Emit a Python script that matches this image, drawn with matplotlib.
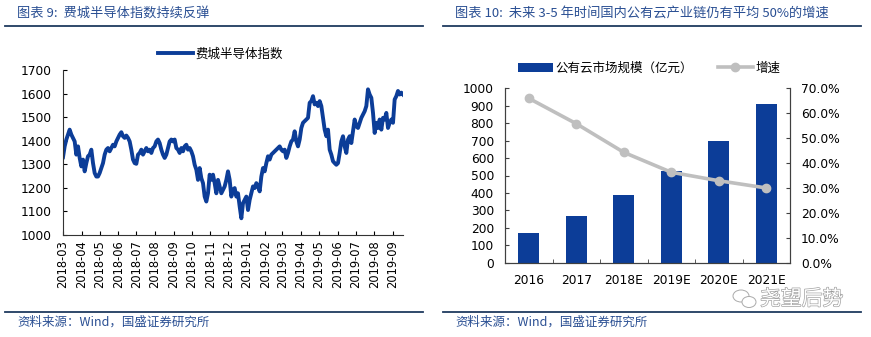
import matplotlib
matplotlib.use("Agg")
import matplotlib.pyplot as plt
import matplotlib.dates as mdates
from matplotlib.lines import Line2D
from matplotlib.patches import Ellipse
from matplotlib import patheffects
from matplotlib.ticker import MultipleLocator, FuncFormatter
import pandas as pd

plt.rcParams['font.family'] = ['DejaVu Sans', 'Noto Sans CJK SC']

# 费城半导体指数 (2018-03 ~ 2019-09)
sox_start = '2018-03-01'
sox_end = '2019-09-18'
sox_index = [1330, 1376, 1405, 1426, 1447, 1426, 1412, 1397, 1341, 1376, 1327, 1291,
             1320, 1270, 1305, 1334, 1341, 1362, 1305, 1263, 1248, 1248, 1263, 1284,
             1305, 1341, 1362, 1369, 1355, 1369, 1383, 1376, 1397, 1412, 1426, 1436,
             1419, 1412, 1422, 1412, 1397, 1362, 1320, 1305, 1302, 1341, 1348, 1362,
             1341, 1355, 1369, 1355, 1362, 1348, 1369, 1376, 1397, 1405, 1390, 1362,
             1341, 1327, 1341, 1369, 1397, 1405, 1397, 1405, 1369, 1362, 1348, 1369,
             1355, 1376, 1383, 1362, 1369, 1355, 1334, 1298, 1277, 1234, 1284, 1241,
             1220, 1163, 1142, 1177, 1256, 1234, 1256, 1220, 1177, 1234, 1206, 1177,
             1192, 1206, 1234, 1270, 1234, 1163, 1192, 1199, 1163, 1177, 1121, 1071,
             1135, 1149, 1163, 1106, 1149, 1177, 1206, 1199, 1220, 1206, 1185, 1248,
             1284, 1270, 1305, 1334, 1320, 1341, 1348, 1355, 1362, 1369, 1376, 1362,
             1355, 1362, 1327, 1348, 1376, 1397, 1405, 1440, 1397, 1376, 1405, 1454,
             1476, 1483, 1490, 1497, 1561, 1568, 1589, 1554, 1561, 1547, 1568, 1547,
             1497, 1447, 1419, 1447, 1362, 1341, 1313, 1305, 1298, 1305, 1348, 1397,
             1419, 1376, 1348, 1405, 1419, 1390, 1440, 1490, 1461, 1454, 1476, 1497,
             1511, 1525, 1547, 1618, 1596, 1582, 1518, 1433, 1476, 1454, 1490, 1447,
             1497, 1490, 1518, 1454, 1476, 1490, 1476, 1575, 1589, 1611, 1596, 1604,
             1596]

# 公有云市场规模 与 增速
years = ['2016', '2017', '2018E', '2019E', '2020E', '2021E']
cloud_size = [172, 270, 390, 528, 700, 910]
cloud_growth = [0.66, 0.558, 0.443, 0.363, 0.329, 0.30]

BLUE = '#0c3d98'
GRAY = '#bfbfbf'
TITLE_C = '#2a4f93'
RULE_C = '#1f3a5f'
CJK = ['Noto Sans CJK SC', 'DejaVu Sans']

fig = plt.figure(figsize=(8.71, 3.37), dpi=100)
W, H = 871, 337


def fx(px):
    return px / W


def fy(py):
    return 1 - py / H


# titles, rules and sources
for x0, x1, title in [(17, 423, '图表 9:  费城半导体指数持续反弹'),
                      (455, 861, '图表 10:  未来 3-5 年时间国内公有云产业链仍有平均 50%的增速')]:
    fig.text(fx(x0), fy(13), title, family=CJK, fontsize=9.5, color=TITLE_C,
             style='italic', va='center', ha='left')
    fig.add_artist(Line2D([fx(x0 - 12), fx(x1)], [fy(26), fy(26)], color=RULE_C, lw=1.3))
    fig.add_artist(Line2D([fx(x0 - 12), fx(x1)], [fy(312), fy(312)], color=RULE_C, lw=1.3))
    fig.text(fx(x0), fy(322), '资料来源：Wind，国盛证券研究所', family=CJK, fontsize=9,
             color=TITLE_C, style='italic', va='center', ha='left')

# ---- left: 费城半导体指数 ----
ax1 = fig.add_axes([fx(63), fy(235), fx(403 - 63), (235 - 70) / H])
dates = pd.date_range(sox_start, sox_end, periods=len(sox_index))
ax1.plot(dates, sox_index, color=BLUE, lw=2.8, label='费城半导体指数')
ax1.set_xlim(dates[0], dates[-1])
ax1.set_ylim(1000, 1700)
ax1.yaxis.set_major_locator(MultipleLocator(100))
ax1.xaxis.set_major_locator(mdates.MonthLocator())
ax1.xaxis.set_major_formatter(mdates.DateFormatter('%Y-%m'))
ax1.tick_params(axis='x', direction='in', length=3, labelsize=8.3, rotation=90, pad=4)
ax1.tick_params(axis='y', direction='in', length=3, labelsize=8.8, pad=8)
for s in ['top', 'right']:
    ax1.spines[s].set_visible(False)
for s in ['left', 'bottom']:
    ax1.spines[s].set_color('#333333')
    ax1.spines[s].set_linewidth(0.8)
fig.legend(handles=[Line2D([], [], color=BLUE, lw=2.8)], labels=['费城半导体指数'],
           loc='center', bbox_to_anchor=(fx(220), fy(54)), frameon=False,
           prop={'family': CJK, 'size': 9}, handlelength=2.8, handletextpad=0.2)

# ---- right: 公有云市场规模 ----
ax2 = fig.add_axes([fx(505), fy(262.7), fx(790 - 505), (262.7 - 88.3) / H])
xs = range(len(years))
bars = ax2.bar(xs, cloud_size, width=0.45, color=BLUE, label='公有云市场规模（亿元）')
ax2.set_xlim(-0.5, len(years) - 0.5)
ax2.set_ylim(0, 1000)
ax2.yaxis.set_major_locator(MultipleLocator(100))
ax2.set_xticks(list(xs))
ax2.set_xticklabels(years)
ax2.set_xticks([i + 0.5 for i in range(len(years) - 1)], minor=True)
ax2.tick_params(axis='x', which='major', length=0, labelsize=8.8, pad=8)
ax2.tick_params(axis='x', which='minor', direction='in', length=3, color='#404040')
ax2.tick_params(axis='y', direction='in', length=3, labelsize=8.8, pad=8, color='#404040')

ax3 = ax2.twinx()
ln, = ax3.plot(xs, cloud_growth, color=GRAY, lw=2.6, marker='o', ms=6, label='增速')
ax3.set_ylim(0, 0.7)
ax3.yaxis.set_major_locator(MultipleLocator(0.1))
ax3.yaxis.set_major_formatter(FuncFormatter(lambda v, p: f'{v * 100:.1f}%'))
ax3.tick_params(axis='y', direction='in', length=3, labelsize=8.8, pad=8, color='#404040')
for a in (ax2, ax3):
    a.spines['top'].set_visible(False)
    for s in ['left', 'right', 'bottom']:
        a.spines[s].set_color('#404040')
        a.spines[s].set_linewidth(0.8)

fig.legend(handles=[bars, ln], labels=['公有云市场规模（亿元）', '增速'], loc='center',
           bbox_to_anchor=(fx(649), fy(68)), ncol=2, frameon=False,
           prop={'family': CJK, 'size': 9}, handlelength=2.8, handletextpad=0.2,
           columnspacing=2.0)

# watermark
fig.add_artist(Ellipse((fx(741), fy(296)), fx(16), 12 / H, transform=fig.transFigure,
                       fill=False, ec='#aaaaaa', lw=0.7))
fig.add_artist(Ellipse((fx(749), fy(302)), fx(14), 11 / H, transform=fig.transFigure,
                       fc='white', ec='#aaaaaa', lw=0.7))
fig.text(fx(760), fy(299), '尧望后势', family=CJK, fontsize=15, color='white',
         va='center', ha='left', weight='light',
         path_effects=[patheffects.withStroke(linewidth=0.9, foreground='#9a9a9a')])

fig.savefig('out.png', dpi=100)
